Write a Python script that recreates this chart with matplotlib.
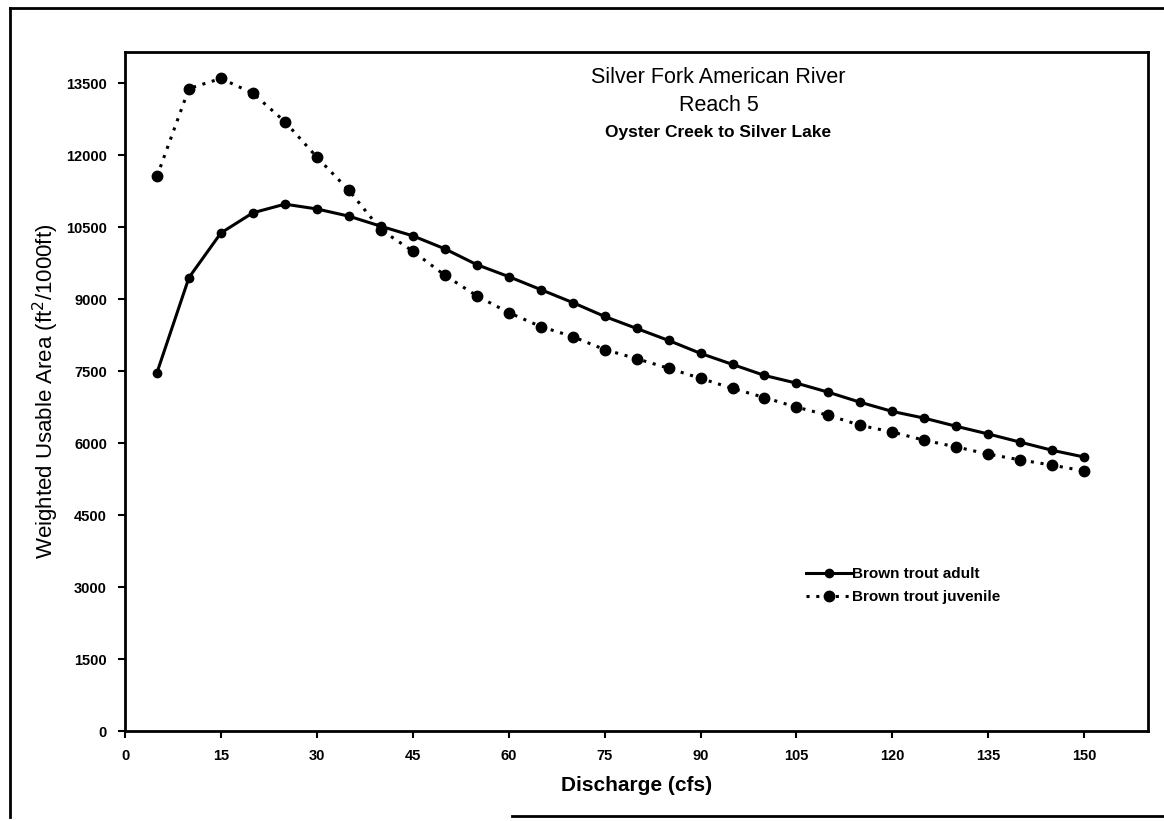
import matplotlib.pyplot as plt
from matplotlib.lines import Line2D

# discharge (cfs) and weighted usable area for the two life stages
discharge = [5, 10, 15, 20, 25, 30, 35, 40, 45, 50,
             55, 60, 65, 70, 75, 80, 85, 90, 95, 100,
             105, 110, 115, 120, 125, 130, 135, 140, 145, 150]
adult = [7470, 9450, 10380, 10800, 10980, 10880, 10730, 10520, 10320, 10050,
         9720, 9470, 9200, 8930, 8640, 8390, 8140, 7870, 7640, 7410,
         7250, 7060, 6850, 6660, 6520, 6350, 6190, 6020, 5850, 5710]
juvenile = [11560, 13390, 13600, 13290, 12700, 11960, 11270, 10450, 10000, 9500,
            9070, 8720, 8430, 8220, 7950, 7760, 7560, 7350, 7140, 6950,
            6750, 6580, 6370, 6230, 6060, 5920, 5770, 5650, 5540, 5420]
labels = ["Brown trout adult", "Brown trout juvenile"]
x_ticks = [0, 15, 30, 45, 60, 75, 90, 105, 120, 135, 150]
y_ticks = [0, 1500, 3000, 4500, 6000, 7500, 9000, 10500, 12000, 13500]

plt.rcParams["font.family"] = ["Liberation Sans", "DejaVu Sans"]

fig = plt.figure(figsize=(11.64, 8.21), dpi=100)
ax = fig.add_axes([0.1074, 0.1096, 0.879, 0.827])

ax.plot(discharge, adult, color="black", lw=2.2, marker="o", ms=6,
        label=labels[0])
ax.plot(discharge, juvenile, color="black", lw=2.2, ls=(0, (1, 2.2)),
        marker="o", ms=7.5, label=labels[1])

ax.set_xlim(0, 160)
ax.set_ylim(0, 14150)
ax.set_xticks(x_ticks)
ax.set_yticks(y_ticks)
ax.tick_params(direction="out", length=5, width=1.5, labelsize=10.5, pad=8)
for lab in ax.get_xticklabels() + ax.get_yticklabels():
    lab.set_fontweight("bold")
for s in ax.spines.values():
    s.set_linewidth(2)

ax.set_xlabel("Discharge (cfs)", fontsize=15, fontweight="bold", labelpad=9)
ax.set_ylabel("Weighted Usable Area (ft$^2$/1000ft)", fontsize=16,
              labelpad=4)

# title block inside the plot area
ax.text(0.58, 0.962, "Silver Fork American River", transform=ax.transAxes,
        ha="center", va="center", fontsize=15.5)
ax.text(0.58, 0.921, "Reach 5", transform=ax.transAxes,
        ha="center", va="center", fontsize=15.5)
ax.text(0.58, 0.881, "Oyster Creek to Silver Lake", transform=ax.transAxes,
        ha="center", va="center", fontsize=12.5, fontweight="bold")

leg = ax.legend(loc="upper left", bbox_to_anchor=(0.652, 0.262), frameon=False,
                handlelength=3.0, handletextpad=0.0, labelspacing=0.6,
                prop={"size": 11, "weight": "bold"})

# outer frame around the whole chart
fig.add_artist(Line2D([0.009, 1.0], [0.99, 0.99], color="black", lw=2))
fig.add_artist(Line2D([0.009, 0.009], [0.99, 0.005], color="black", lw=2))
fig.add_artist(Line2D([0.44, 1.0], [0.006, 0.006], color="black", lw=2))

plt.savefig("out.png", dpi=100)
